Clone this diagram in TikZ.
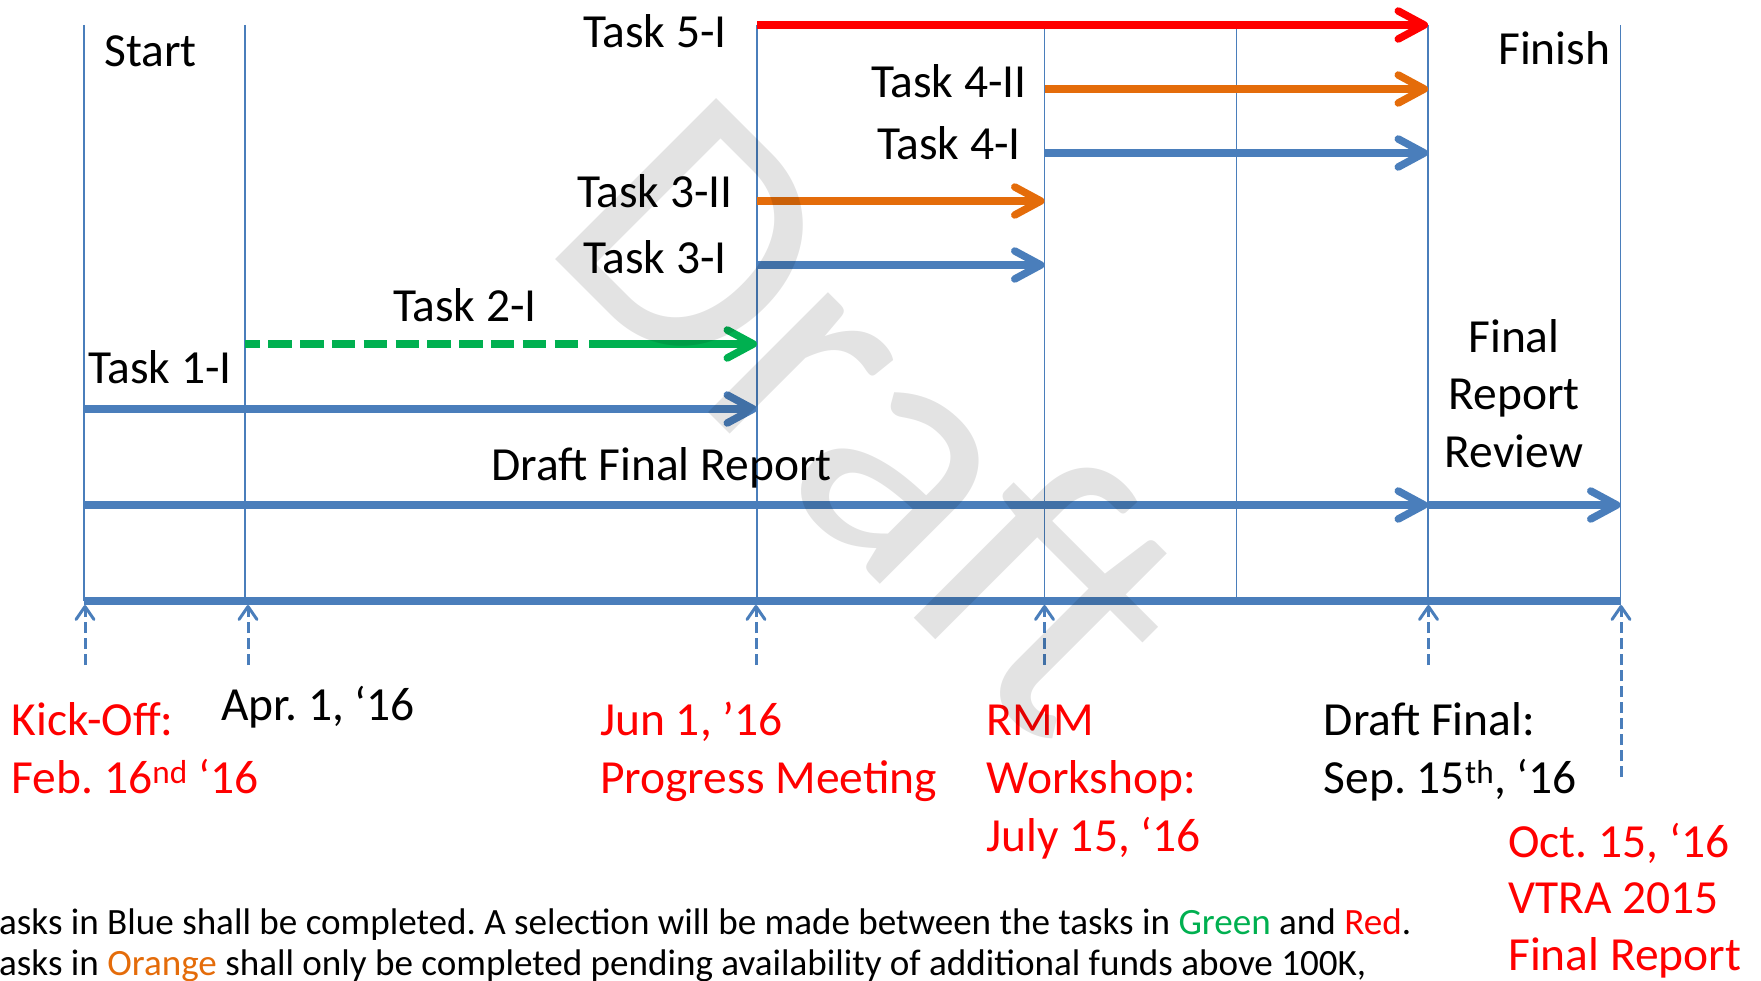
\documentclass[tikz,border=0pt]{standalone}
\usepackage{fontspec}
\setmainfont{Carlito}
\usetikzlibrary{arrows.meta}
\definecolor{tblue}{HTML}{4A7EBB}
\definecolor{tred}{HTML}{FF0000}
\definecolor{torange}{HTML}{E46C0A}
\definecolor{tgreen}{HTML}{00B050}
\frenchspacing
\begin{document}
\begin{tikzpicture}[x=1pt,y=-1pt,
  gridline/.style={tblue, line width=1.5pt},
  bar/.style={line width=7.5pt, -{Straight Barb[length=26pt,width=28pt,round]}},
  tickarrow/.style={tblue, line width=3pt, dash pattern=on 11pt off 5pt, -{Straight Barb[length=13pt,width=18pt,round]}},
  lbl/.style={inner sep=0pt, font=\fontsize{47.5}{58}\selectfont, align=left},
  lblc/.style={inner sep=0pt, font=\fontsize{47.5}{57.5}\selectfont, align=center},
  note/.style={inner sep=0pt, font=\fontsize{37.1}{41}\selectfont},
]
\useasboundingbox (0,0) rectangle (1761,981);
\clip (0,0) rectangle (1761,981);

% grid coordinates
\coordinate (gAt) at (84,25);     \coordinate (gAb) at (84,601);
\coordinate (gBt) at (245,25);    \coordinate (gBb) at (245,601);
\coordinate (gCt) at (757,25);    \coordinate (gCb) at (757,601);
\coordinate (gDt) at (1044.5,25); \coordinate (gDb) at (1044.5,601);
\coordinate (gEt) at (1236.5,25); \coordinate (gEb) at (1236.5,601);
\coordinate (gFt) at (1428,25);   \coordinate (gFb) at (1428,601);
\coordinate (gGt) at (1620.5,25); \coordinate (gGb) at (1620.5,601);
\foreach \g in {A,B,C,D,E,F,G} \draw[gridline] (g\g t) -- (g\g b);

% axis
\draw[tblue, line width=7.5pt] (gAb) -- (gGb);

% task bars
\coordinate (t5s) at (757,25);    \coordinate (t5e) at (1428,25);
\coordinate (t42s) at (1044.5,89); \coordinate (t42e) at (1428,89);
\coordinate (t41s) at (1044.5,153); \coordinate (t41e) at (1428,153);
\coordinate (t32s) at (757,201);  \coordinate (t32e) at (1044.5,201);
\coordinate (t31s) at (757,265);  \coordinate (t31e) at (1044.5,265);
\coordinate (t2s) at (245,344);   \coordinate (t2m) at (580,344);
\coordinate (t2n) at (589,344);   \coordinate (t2e) at (757,344);
\coordinate (t1s) at (84,409);    \coordinate (t1e) at (757,409);
\coordinate (dfs) at (84,505);    \coordinate (dfm) at (1428,505);
\coordinate (dfe) at (1620.5,505);

\draw[bar, tred] (t5s) -- (t5e);
\draw[bar, torange] (t42s) -- (t42e);
\draw[bar, tblue] (t41s) -- (t41e);
\draw[bar, torange] (t32s) -- (t32e);
\draw[bar, tblue] (t31s) -- (t31e);
\draw[tgreen, line width=7.5pt, dash pattern=on 23.5pt off 8.3pt, dash phase=8.5pt] (t2s) -- (t2m);
\draw[bar, tgreen] (t2n) -- (t2e);
\draw[bar, tblue] (t1s) -- (t1e);
\draw[bar, tblue] (dfs) -- (dfm);
\draw[bar, tblue] (dfm) -- (dfe);

% milestone ticks
\coordinate (kA) at (85,665);     \coordinate (kAt) at (85,605);
\coordinate (kB) at (248,665);    \coordinate (kBt) at (248,605);
\coordinate (kC) at (756,665);    \coordinate (kCt) at (756,605);
\coordinate (kD) at (1044.5,665); \coordinate (kDt) at (1044.5,605);
\coordinate (kF) at (1428.5,665); \coordinate (kFt) at (1428.5,605);
\coordinate (kG) at (1621,777);   \coordinate (kGt) at (1621,605);
\foreach \k in {A,B,C,D,F,G} \draw[tickarrow] (k\k) -- (k\k t);

% labels
\node[lbl, anchor=base west] (start) at (104,67) {Start};
\node[lbl, anchor=base east] (l5) at (727,48) {Task 5-I};
\node[lbl, anchor=base west] (finish) at (1498,65) {Finish};
\node[lbl, anchor=base east] (l42) at (1027,98) {Task 4-II};
\node[lbl, anchor=base east] (l41) at (1021,160) {Task 4-I};
\node[lbl, anchor=base east] (l32) at (733,208) {Task 3-II};
\node[lbl, anchor=base east] (l31) at (727,274) {Task 3-I};
\node[lbl, anchor=base west] (l2) at (393,322) {Task 2-I};
\node[lbl, anchor=base west] (l1) at (88,384) {Task 1-I};
\node[lblc, anchor=base] (frr) at (1514,467) {Final\\Report\\Review};
\node[lbl, anchor=base west] (dfr) at (491,480) {Draft Final Report};

\node[lbl, anchor=base west, text=tred] (ko) at (11.5,793) {Kick-Off:\\Feb. 16\textsuperscript{nd} ‘16};
\node[lbl, anchor=base west] (apr) at (221,720) {Apr. 1, ‘16};
\node[lbl, anchor=base west, text=tred] (jun) at (600,793) {Jun 1, ’16\\Progress Meeting};
\node[lbl, anchor=base west, text=tred] (rmm) at (986.5,851) {RMM\\Workshop:\\July 15, ‘16};
\node[lbl, anchor=base west] (dft) at (1323.6,793) {Draft Final:\\Sep. 15\textsuperscript{th}, ‘16};
\node[lbl, anchor=base west, text=tred, font=\fontsize{47.5}{56.5}\selectfont] (oct) at (1508,970) {Oct. 15, ‘16\\VTRA 2015\\Final Report};

\node[note, anchor=base west] (n1) at (-1,934) {asks in Blue shall be completed. A selection will be made between the tasks in \textcolor{tgreen}{Green} and \textcolor{tred}{Red}.};
\path (n1.base west) ++(0,41) node[note, anchor=base west] (n2) {asks in \textcolor{torange}{Orange} shall only be completed pending availability of additional funds above 100K,};

% watermark
\node[rotate=-45, anchor=base west, inner sep=0pt, text opacity=0.11, font=\fontsize{355}{355}\selectfont] (wm) at (538,242) {Draft};
\end{tikzpicture}
\end{document}
